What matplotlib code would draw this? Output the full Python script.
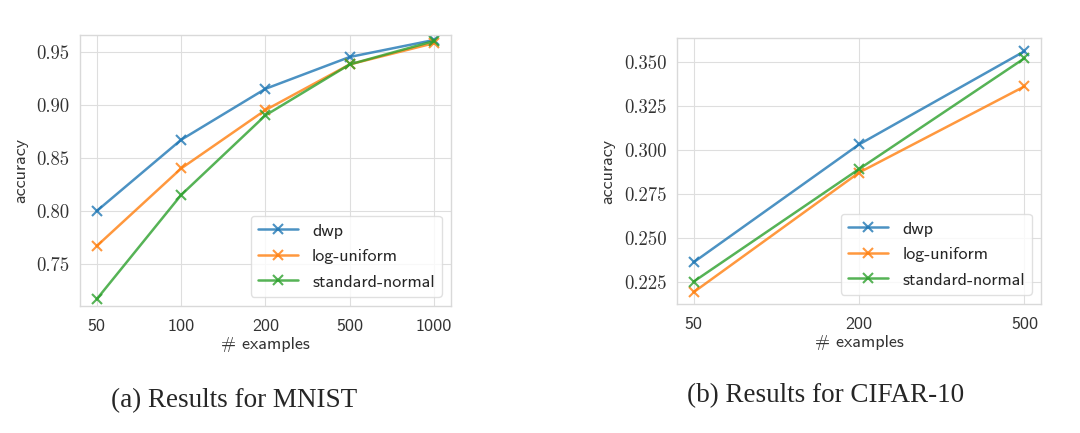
import matplotlib
matplotlib.use("Agg")
import matplotlib.pyplot as plt
import seaborn as sns

# MNIST results
mnist_examples = ["50", "100", "200", "500", "1000"]
mnist_dwp = [0.800, 0.867, 0.915, 0.945, 0.961]
mnist_loguniform = [0.767, 0.840, 0.895, 0.938, 0.958]
mnist_normal = [0.717, 0.815, 0.890, 0.938, 0.960]
mnist_yticks = [0.75, 0.80, 0.85, 0.90, 0.95]

# CIFAR-10 results
cifar_examples = ["50", "200", "500"]
cifar_dwp = [0.236, 0.303, 0.356]
cifar_loguniform = [0.219, 0.287, 0.336]
cifar_normal = [0.225, 0.289, 0.352]
cifar_yticks = [0.225, 0.250, 0.275, 0.300, 0.325, 0.350]

sns.set_style("whitegrid", {"axes.edgecolor": "0.85", "grid.color": "0.87"})
plt.rcParams["font.family"] = ["cmss10", "DejaVu Sans"]
plt.rcParams["axes.unicode_minus"] = False

fig = plt.figure(figsize=(10.8, 4.33), dpi=100)
ax1 = fig.add_axes([0.074, 0.2933, 0.3435, 0.6259])
ax2 = fig.add_axes([0.6269, 0.2979, 0.337, 0.6143])

colors = ["tab:blue", "tab:orange", "tab:green"]
names = ["dwp", "log-uniform", "standard-normal"]

def draw(ax, cats, series, ylim, yticks, decimals):
    for vals, c, n in zip(series, colors, names):
        ax.plot(cats, vals, color=c, marker="x", markersize=7.5, mew=1.5,
                lw=1.8, alpha=0.8, label=n)
    ax.set_ylim(*ylim)
    ax.set_yticks(yticks)
    ax.set_yticklabels([f"{t:.{decimals}f}" for t in yticks],
                       family="cmr10", fontsize=13.5, color="0.2")
    ax.tick_params(axis="x", labelsize=13, labelcolor="0.2", pad=6)
    ax.tick_params(axis="y", pad=4)
    ax.set_xlabel("# examples", fontsize=13, color="0.2", labelpad=2)
    ax.set_ylabel("accuracy", fontsize=13, color="0.2", labelpad=6)
    leg = ax.legend(loc="lower right", fontsize=13, frameon=True,
                    handlelength=2.2, labelspacing=0.55)
    leg.get_frame().set_edgecolor("0.85")
    for s in ax.spines.values():
        s.set_linewidth(1.0)

draw(ax1, mnist_examples, [mnist_dwp, mnist_loguniform, mnist_normal],
     (0.7105, 0.9657), mnist_yticks, 2)
draw(ax2, cifar_examples, [cifar_dwp, cifar_loguniform, cifar_normal],
     (0.2123, 0.3635), cifar_yticks, 3)

fig.text(0.217, 0.075, "(a) Results for MNIST", family="Liberation Serif",
         fontsize=19.5, ha="center", va="center")
fig.text(0.764, 0.087, "(b) Results for CIFAR-10", family="Liberation Serif",
         fontsize=19.5, ha="center", va="center")

fig.savefig("out.png", dpi=100)
